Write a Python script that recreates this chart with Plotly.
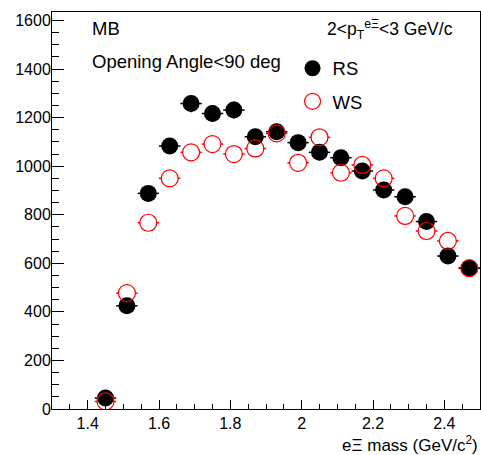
import numpy as np
import plotly.graph_objects as go

mass = [1.45, 1.51, 1.57, 1.63, 1.69, 1.75, 1.81, 1.87, 1.93, 1.99,
        2.05, 2.11, 2.17, 2.23, 2.29, 2.35, 2.41, 2.47]
rs = [45, 425, 888, 1083, 1258, 1217, 1231, 1121, 1142, 1097,
      1057, 1035, 980, 902, 874, 772, 630, 580]
ws = [31, 477, 767, 950, 1057, 1091, 1050, 1073, 1135, 1014,
      1119, 973, 1005, 950, 795, 733, 692, 580]
half_bin = [0.03] * len(mass)

FONT = "Liberation Sans, Arial, Helvetica, sans-serif"
MS = 17

fig = go.Figure()
# WS error bars under a white disc (so bars stop at circle edge)
fig.add_trace(go.Scatter(
    x=mass, y=ws, mode="markers", name="WS", showlegend=False,
    marker=dict(symbol="circle", size=MS - 1, color="white"),
    error_x=dict(type="data", array=half_bin, width=0, thickness=1.5, color="red"),
    error_y=dict(type="data", array=list(np.sqrt(ws)), width=0, thickness=1.5, color="red"),
    hoverinfo="skip",
))
fig.add_trace(go.Scatter(
    x=mass, y=rs, mode="markers", name="RS", legendgroup="a",
    marker=dict(symbol="circle", size=MS, color="black"),
    error_x=dict(type="data", array=half_bin, width=0, thickness=1.5, color="black"),
    error_y=dict(type="data", array=list(np.sqrt(rs)), width=0, thickness=1.5, color="black"),
))
fig.add_trace(go.Scatter(
    x=mass, y=ws, mode="markers", name="WS", legendgroup="b",
    marker=dict(symbol="circle-open", size=MS, color="red", line=dict(width=1.2, color="red")),
))

fig.update_layout(
    width=481, height=455,
    margin=dict(l=52, r=1, t=12, b=46),
    paper_bgcolor="white", plot_bgcolor="white",
    font=dict(family=FONT, size=16, color="black"),
    showlegend=True,
    legend=dict(x=0.562, y=0.905, xanchor="left", yanchor="top",
                font=dict(size=18.5), bgcolor="rgba(0,0,0,0)",
                tracegroupgap=6, traceorder="grouped"),
    xaxis=dict(range=[1.3, 2.5], showgrid=False, zeroline=False,
               showline=True, linecolor="black", linewidth=1, mirror=True,
               ticks="inside", ticklen=9, tickwidth=1, tickcolor="black",
               dtick=0.2, tick0=1.4, tickformat="~g",
               minor=dict(ticks="inside", ticklen=5, dtick=0.05, tickcolor="black", showgrid=False)),
    yaxis=dict(range=[0, 1635], showgrid=False, zeroline=False,
               showline=True, linecolor="black", linewidth=1, mirror=True,
               ticks="inside", ticklen=12, tickwidth=1, tickcolor="black",
               dtick=200, tick0=0, ticklabelstandoff=-3,
               minor=dict(ticks="inside", ticklen=7, dtick=50, tickcolor="black", showgrid=False)),
)

ann = dict(xref="paper", yref="paper", showarrow=False, font=dict(family=FONT, size=18.5))
fig.add_annotation(text="MB", x=0.088, y=0.958, xanchor="left", yanchor="middle", **ann)
fig.add_annotation(text="Opening Angle&lt;90 deg", x=0.088, y=0.875, xanchor="left", yanchor="middle", **ann)
fig.add_annotation(text="2&lt;p<sub>T</sub><sup>eΞ</sup>&lt;3 GeV/c", x=0.942, y=0.955,
                   xanchor="right", yanchor="middle", xref="paper", yref="paper", showarrow=False,
                   font=dict(family=FONT, size=17.5))
fig.add_annotation(text="eΞ mass (GeV/c<sup>2</sup>)", x=1.0, y=-0.088, xanchor="right", yanchor="middle",
                   xref="paper", yref="paper", showarrow=False, font=dict(family=FONT, size=17))

fig.write_html("out.html")
